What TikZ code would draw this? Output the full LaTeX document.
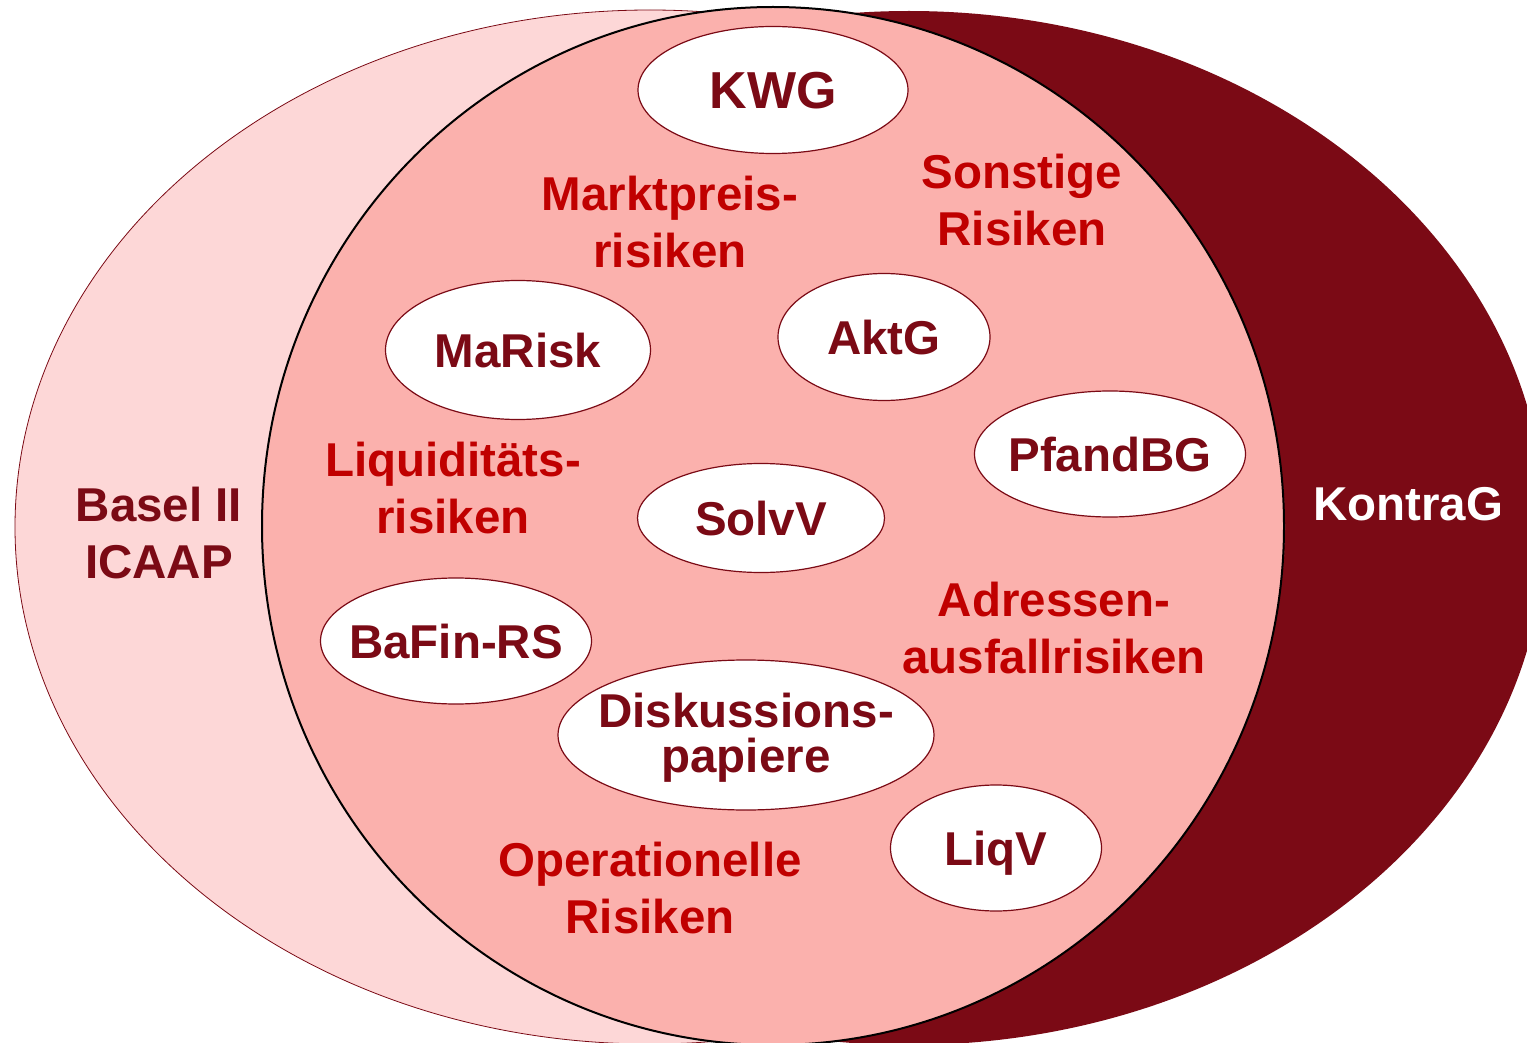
\documentclass[tikz,border=0pt]{standalone}
\usepackage{fontspec}
\setmainfont{Liberation Sans}
\usetikzlibrary{shapes.geometric}
\definecolor{bgpink}{HTML}{FDD7D7}
\definecolor{midpink}{HTML}{FBB1AD}
\definecolor{maroon}{HTML}{7B0A15}
\definecolor{riskred}{HTML}{C00000}
\newcommand{\lawtxt}[1]{\makebox[0pt]{\raisebox{-0.358em}[0pt][0pt]{#1}}}
\newcommand{\lawline}[2]{\makebox[0pt]{\raisebox{#1}[0pt][0pt]{#2}}}
\begin{document}
\begin{tikzpicture}[x=1pt,y=-1pt,
  law/.style={ellipse, draw=maroon, line width=1.2pt, fill=white, inner sep=0pt, text=maroon,
    font=\fontsize{47.5}{57}\selectfont\bfseries},
  risk/.style={text=riskred, align=center, inner sep=0pt, font=\fontsize{47.5}{57}\selectfont\bfseries},
  setlabel/.style={align=center, inner sep=0pt, font=\fontsize{47.5}{57}\selectfont\bfseries}]
\useasboundingbox (0,0) rectangle (1527,1043);
\clip (0,0) rectangle (1527,1043);
% sets
\fill[maroon] (909,528) ellipse [x radius=636, y radius=517];
\filldraw[fill=bgpink, draw=maroon, line width=0.8pt] (650,527) ellipse [x radius=635, y radius=517];
\filldraw[fill=midpink, draw=black, line width=2pt] (773,526) ellipse [x radius=511, y radius=519];
% laws
\node[law, minimum width=270, minimum height=127, font=\fontsize{52}{62}\selectfont\bfseries] (kwg) at (773,90) {\lawtxt{KWG}};
\node[law, minimum width=265, minimum height=139] (marisk) at (518,350) {\lawtxt{MaRisk}};
\node[law, minimum width=212, minimum height=127] (aktg) at (884,337) {\lawtxt{AktG}};
\node[law, minimum width=271, minimum height=126] (pfandbg) at (1110,454) {\lawtxt{PfandBG}};
\node[law, minimum width=247, minimum height=109] (solvv) at (761,518) {\lawtxt{SolvV}};
\node[law, minimum width=271, minimum height=126] (bafin) at (456,641) {\lawtxt{BaFin-RS}};
\node[law, minimum width=376, minimum height=150] (disk) at (746,735) {\lawline{8pt}{Diskussions-}\lawline{-37pt}{papiere}};
\node[law, minimum width=211, minimum height=126] (liqv) at (996,848) {\lawtxt{LiqV}};
% risks
\node[risk] (markt) at (670,222.5) {Marktpreis-\\risiken};
\node[risk] (sonst) at (1022,200.5) {Sonstige\\Risiken};
\node[risk] (liqu) at (453,488) {Liquiditäts-\\risiken};
\node[risk] (adr) at (1054,628) {Adressen-\\ausfallrisiken};
\node[risk] (oper) at (650,888.5) {Operationelle\\Risiken};
% set labels
\node[setlabel, text=maroon] (basel) at (159,533.5) {Basel II\\ICAAP};
\node[setlabel, text=white] (kontrag) at (1408,504) {KontraG};
\end{tikzpicture}
\end{document}
